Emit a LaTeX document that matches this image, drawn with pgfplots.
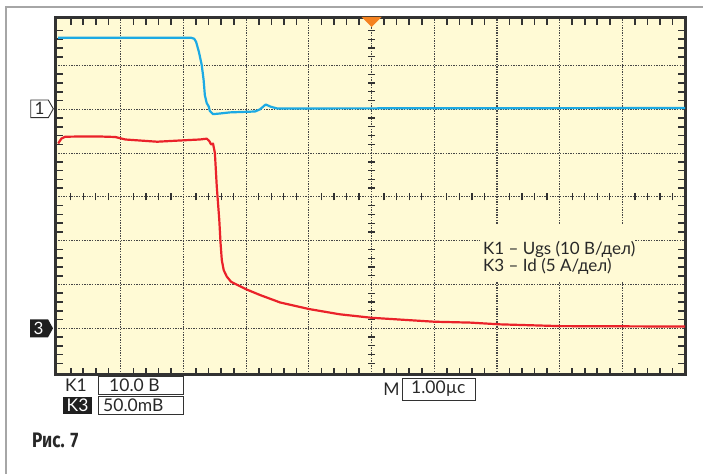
\documentclass[border=0pt]{standalone}
\usepackage{pgfplots}
\pgfplotsset{compat=1.18}
\usepackage{fontspec}
\setmainfont{Lato}
\newfontfamily\capfont{Fira Sans}

\definecolor{scopebg}{RGB}{255,250,213}
\definecolor{frameclr}{RGB}{50,50,50}
\definecolor{gridclr}{RGB}{70,70,70}
\definecolor{chone}{RGB}{28,170,228}
\definecolor{chthree}{RGB}{234,34,42}
\definecolor{trig}{RGB}{245,130,32}
\definecolor{txt}{RGB}{40,40,40}

\begin{document}
\begin{tikzpicture}
\path[use as bounding box] (0pt,0pt) rectangle (703pt,474pt);

\begin{axis}[
  at={(55.5pt,99.5pt)}, anchor=south west,
  scale only axis, width=629.5pt, height=356.5pt,
  xmin=-0.043, xmax=10, ymin=-4.055, ymax=4.085,
  axis background/.style={fill=scopebg},
  axis line style={line width=3pt, frameclr},
  xtick={1,...,9}, ytick={-3,...,3},
  xticklabel=\empty, yticklabel=\empty,
  major tick length=0pt,
  minor xtick={0.2,0.4,0.6,0.8,1.2,1.4,1.6,1.8,2.2,2.4,2.6,2.8,3.2,3.4,3.6,3.8,4.2,4.4,4.6,4.8,5.2,5.4,5.6,5.8,6.2,6.4,6.6,6.8,7.2,7.4,7.6,7.8,8.2,8.4,8.6,8.8,9.2,9.4,9.6,9.8},
  minor ytick={-3.8,-3.6,-3.4,-3.2,-2.8,-2.6,-2.4,-2.2,-1.8,-1.6,-1.4,-1.2,-0.8,-0.6,-0.4,-0.2,0.2,0.4,0.6,0.8,1.2,1.4,1.6,1.8,2.2,2.4,2.6,2.8,3.2,3.4,3.6,3.8},
  minor tick length=7pt,
  tick align=inside, tickpos=both,
  minor tick style={line width=1.6pt, frameclr},
  xmajorgrids, ymajorgrids,
  major grid style={gridclr, line width=1.1pt, dash pattern=on 1.4pt off 1.2pt},
]
% crosshair ticks on the centre lines
\pgfplotsinvokeforeach{0.2,0.4,0.6,0.8,1.2,1.4,1.6,1.8,2.2,2.4,2.6,2.8,3.2,3.4,3.6,3.8,4.2,4.4,4.6,4.8,5.2,5.4,5.6,5.8,6.2,6.4,6.6,6.8,7.2,7.4,7.6,7.8,8.2,8.4,8.6,8.8,9.2,9.4,9.6,9.8}{
  \draw[frameclr, line width=1.3pt] (axis cs:#1,0) ++(0pt,-3.5pt) -- ++(0pt,7pt);
}
\pgfplotsinvokeforeach{-3.8,-3.6,-3.4,-3.2,-2.8,-2.6,-2.4,-2.2,-1.8,-1.6,-1.4,-1.2,-0.8,-0.6,-0.4,-0.2,0.2,0.4,0.6,0.8,1.2,1.4,1.6,1.8,2.2,2.4,2.6,2.8,3.2,3.4,3.6,3.8}{
  \draw[frameclr, line width=1.3pt] (axis cs:5,#1) ++(-3.5pt,0pt) -- ++(7pt,0pt);
}

% K1 - gate voltage
\addplot[chone, line width=2.2pt, line join=round] coordinates {
  (0,3.635) (2.12,3.635) (2.17,3.61) (2.20,3.54) (2.245,3.31) (2.29,3.01)
  (2.32,2.67) (2.34,2.32) (2.37,2.14) (2.40,2.07) (2.42,1.96) (2.47,1.89)
  (2.55,1.90) (2.74,1.93) (3.14,1.95) (3.22,2.00) (3.31,2.11) (3.39,2.06)
  (3.49,2.02) (3.86,2.02) (10,2.03)
};
% K3 - drain current
\addplot[chthree, line width=2.2pt, line join=round] coordinates {
  (0,1.22) (0.05,1.33) (0.11,1.374) (0.35,1.379) (0.67,1.379) (0.91,1.368)
  (1.07,1.311) (1.30,1.288) (1.58,1.260) (1.94,1.288) (2.26,1.311) (2.37,1.329)
  (2.41,1.276) (2.44,1.196) (2.47,1.219) (2.50,1.00) (2.53,0.233) (2.57,-0.527)
  (2.59,-1.05) (2.61,-1.44) (2.64,-1.67) (2.69,-1.82) (2.76,-1.94) (3.00,-2.11)
  (3.22,-2.24) (3.54,-2.41) (4.0,-2.56) (4.49,-2.68) (5.0,-2.76) (6.0,-2.85)
  (6.57,-2.87) (7.05,-2.91) (8.0,-2.95) (10,-2.96)
};
\end{axis}

\begin{scope}[x=1pt,y=1pt]
% outer page frame
\draw[gray!70, line width=1.2pt] (6,0) -- (6,467) -- (703,467);

% trigger position marker
\fill[trig] (361.7,457) -- (381.7,457) -- (371.7,447) -- cycle;

% channel reference markers
\draw[frameclr, line width=0.9pt, fill=white]
  (30.7,374) -- (48.3,374) -- (53.3,365.2) -- (48.3,356.3) -- (30.7,356.3) -- cycle;
\node[txt, font=\fontsize{17}{17}\selectfont] at (39.5,365.2) {1};
\fill[black!88] (30,154.7) -- (48,154.7) -- (53,145.7) -- (48,136.7) -- (30,136.7) -- cycle;
\node[white, font=\fontsize{17}{17}\selectfont] at (38.5,145.7) {3};

% channel readouts
\node[txt, font=\fontsize{17.5}{17.5}\selectfont] at (76,88.5) {K1};
\draw[frameclr, line width=1pt] (98.3,97.3) rectangle (183.7,79.7);
\node[txt, anchor=west, inner sep=0pt, font=\fontsize{17.5}{17.5}\selectfont] at (109,88.5) {10.0 В};
\fill[black!88] (63,77.3) rectangle (92.3,59.7);
\node[white, font=\fontsize{17.5}{17.5}\selectfont] at (77.6,68.5) {K3};
\draw[frameclr, line width=1pt] (98,77.3) rectangle (183.7,59.7);
\node[txt, anchor=west, inner sep=0pt, font=\fontsize{17.5}{17.5}\selectfont] at (103,68.5) {50.0mВ};

% timebase readout
\node[txt, font=\fontsize{17.5}{17.5}\selectfont] at (391.5,85) {M};
\draw[frameclr, line width=1pt] (402.7,95.7) rectangle (475,74);
\node[txt, anchor=west, inner sep=0pt, font=\fontsize{17.5}{17.5}\selectfont] at (411,85) {1.00µс};

% trace legend on a cleared patch of the screen
\fill[scopebg] (480,250) rectangle (634,193);
\node[txt, anchor=base west, inner sep=0pt, font=\fontsize{17}{17}\selectfont] at (483,219.7) {K1 – Ugs (10 В/дел)};
\node[txt, anchor=base west, inner sep=0pt, font=\fontsize{17}{17}\selectfont] at (483,202.3) {K3 – Id (5 А/дел)};

% caption
\node[txt, anchor=base west, inner sep=0pt, xscale=0.82, font=\capfont\bfseries\fontsize{21}{21}\selectfont] at (32,26.3) {Рис. 7};
\end{scope}
\end{tikzpicture}
\end{document}
